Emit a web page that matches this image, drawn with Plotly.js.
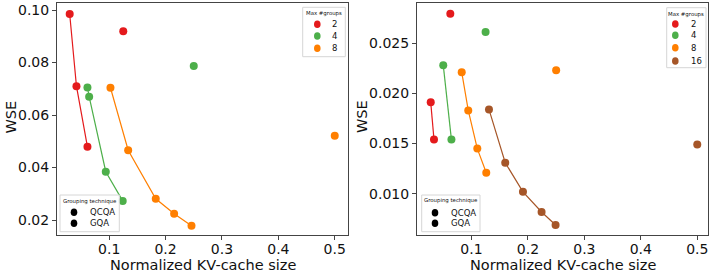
<!DOCTYPE html>
<html>
<head>
<meta charset="utf-8">
<script src="https://cdn.plot.ly/plotly-3.0.1.min.js"></script>
<style>html,body{margin:0;padding:0;background:#fff;}#chart{width:713px;height:274px;}</style>
</head>
<body>
<div id="chart"></div>
<script>
// ---------- data ----------
const groupLabels = ['2', '4', '8', '16'];
const techniqueLabels = ['QCQA', 'GQA'];
const groupLegendTitle = 'Max #groups';
const techLegendTitle = 'Grouping technique';
const xTitle = 'Normalized KV-cache size';
const yTitle = 'WSE';

// Left panel: QCQA (connected) points
const leftQcqa2X = [0.030, 0.042, 0.0615];
const leftQcqa2Y = [0.0985, 0.0710, 0.0479];
const leftQcqa4X = [0.0615, 0.0645, 0.094, 0.124];
const leftQcqa4Y = [0.0705, 0.0670, 0.0384, 0.0273];
const leftQcqa8X = [0.1023, 0.1337, 0.1826, 0.2152, 0.246];
const leftQcqa8Y = [0.0704, 0.0466, 0.0281, 0.0224, 0.0178];
// Left panel: GQA (single) points
const leftGqaX = [0.125, 0.25, 0.5];
const leftGqaY = [0.0919, 0.0787, 0.0521];

// Right panel: QCQA (connected) points
const rightQcqa2X = [0.0278, 0.0336];
const rightQcqa2Y = [0.0191, 0.0154];
const rightQcqa4X = [0.050, 0.0645];
const rightQcqa4Y = [0.0228, 0.0154];
const rightQcqa8X = [0.0827, 0.0943, 0.1103, 0.1262];
const rightQcqa8Y = [0.0221, 0.0183, 0.0145, 0.0121];
const rightQcqa16X = [0.131, 0.1598, 0.1912, 0.2242, 0.249];
const rightQcqa16Y = [0.0184, 0.0131, 0.0102, 0.0082, 0.0069];
// Right panel: GQA (single) points
const rightGqaX = [0.0625, 0.125, 0.25, 0.5];
const rightGqaY = [0.0279, 0.0261, 0.0223, 0.0149];

const xTicks = [0.1, 0.2, 0.3, 0.4, 0.5];
const xTickText = ['0.1', '0.2', '0.3', '0.4', '0.5'];
const leftYTicks = [0.02, 0.04, 0.06, 0.08, 0.10];
const leftYTickText = ['0.02', '0.04', '0.06', '0.08', '0.10'];
const rightYTicks = [0.010, 0.015, 0.020, 0.025];
const rightYTickText = ['0.010', '0.015', '0.020', '0.025'];

// ---------- style ----------
const colors = ['#e41a1c', '#4daf4a', '#ff7f00', '#a65628'];
const MS = 8;
const FONT = 'DejaVu Sans, sans-serif';
const W = 713, H = 274;
const M = {l: 57, r: 5, t: 3, b: 39};
const PW = W - M.l - M.r, PH = H - M.t - M.b;
const px = X => (X - M.l) / PW;      // pixel -> paper x
const py = Y => 1 - (Y - M.t) / PH;  // pixel -> paper y

const leftQ = [[leftQcqa2X, leftQcqa2Y], [leftQcqa4X, leftQcqa4Y], [leftQcqa8X, leftQcqa8Y]];
const rightQ = [[rightQcqa2X, rightQcqa2Y], [rightQcqa4X, rightQcqa4Y], [rightQcqa8X, rightQcqa8Y], [rightQcqa16X, rightQcqa16Y]];

const traces = [];
function addPanel(qList, gX, gY, xa, ya) {
  qList.forEach((q, i) => {
    traces.push({
      type: 'scatter', mode: 'lines+markers', x: q[0], y: q[1],
      xaxis: xa, yaxis: ya, name: groupLabels[i] + ' QCQA', showlegend: false,
      line: {color: colors[i], width: 1.2},
      marker: {color: colors[i], size: MS}
    });
    traces.push({
      type: 'scatter', mode: 'markers', x: [gX[i]], y: [gY[i]],
      xaxis: xa, yaxis: ya, name: groupLabels[i] + ' GQA', showlegend: false,
      marker: {color: colors[i], size: MS}
    });
  });
}
addPanel(leftQ, leftGqaX, leftGqaY, 'x', 'y');
addPanel(rightQ, rightGqaX, rightGqaY, 'x2', 'y2');

// ---------- legend boxes (drawn as shapes + text) ----------
const shapes = [];
const annotations = [];
function legendBox(x0, y0, x1, y1, title, titleY, labels, cols, markerX, textX, rowsY) {
  shapes.push({type: 'rect', xref: 'paper', yref: 'paper', layer: 'above',
    x0: px(x0), x1: px(x1), y0: py(y1), y1: py(y0),
    line: {color: '#d6d6d6', width: 1}, fillcolor: 'rgba(255,255,255,0.85)'});
  annotations.push({xref: 'paper', yref: 'paper', x: px((x0 + x1) / 2), y: py(titleY),
    xanchor: 'center', yanchor: 'middle', showarrow: false, text: title,
    font: {family: FONT, size: 5.4, color: '#111'}, borderpad: 0});
  labels.forEach((lab, i) => {
    shapes.push({type: 'circle', xref: 'paper', yref: 'paper', layer: 'above',
      xsizemode: 'pixel', ysizemode: 'pixel', xanchor: px(markerX), yanchor: py(rowsY[i]),
      x0: -3.3, x1: 3.3, y0: -3.8, y1: 3.8,
      line: {width: 0}, fillcolor: cols[i]});
    annotations.push({xref: 'paper', yref: 'paper', x: px(textX), y: py(rowsY[i]),
      xanchor: 'left', yanchor: 'middle', showarrow: false, text: lab,
      font: {family: FONT, size: 8.5, color: '#111'}, borderpad: 0});
  });
}
// left panel legends
legendBox(302.7, 7.3, 345.3, 56.7, groupLegendTitle, 13.5,
  groupLabels.slice(0, 3), colors.slice(0, 3), 317.3, 330.5, [24.3, 36, 48.3]);
legendBox(60, 195, 119.3, 231.7, techLegendTitle, 201,
  techniqueLabels, ['#000', '#000'], 74, 88.5, [212.3, 223.3]);
// right panel legends
legendBox(666.7, 7.7, 706, 67.7, groupLegendTitle, 14,
  groupLabels, colors, 675.3, 690, [24, 35.3, 47.7, 61]);
legendBox(421.7, 195, 480, 231.7, techLegendTitle, 200.5,
  techniqueLabels, ['#000', '#000'], 435, 450, [212.7, 223.3]);

// ---------- axis titles placed as in the reference ----------
const titleFont = {family: FONT, size: 14.5, color: '#111'};
[[202.5, 264.5], [562.5, 264.5]].forEach(p => annotations.push({
  xref: 'paper', yref: 'paper', x: px(p[0]), y: py(p[1]), xanchor: 'center', yanchor: 'middle',
  showarrow: false, text: xTitle, font: titleFont, borderpad: 0}));
[[10.5, 117], [362, 117]].forEach(p => annotations.push({
  xref: 'paper', yref: 'paper', x: px(p[0]), y: py(p[1]), xanchor: 'center', yanchor: 'middle',
  showarrow: false, text: yTitle, textangle: -90, font: titleFont, borderpad: 0}));

const axisBase = {
  showgrid: false, zeroline: false, showline: true, mirror: true,
  linecolor: '#444', linewidth: 1, ticks: 'outside', ticklen: 4,
  tickcolor: '#444', tickwidth: 1,
  tickfont: {family: FONT, size: 14, color: '#111'}
};

const layout = {
  width: W, height: H,
  margin: M,
  paper_bgcolor: '#fff', plot_bgcolor: '#fff',
  font: {family: FONT, color: '#111'},
  showlegend: false,
  xaxis: Object.assign({}, axisBase, {
    domain: [0, 0.447], range: [0.0075, 0.5235], anchor: 'y',
    tickvals: xTicks, ticktext: xTickText, ticklabelstandoff: -3
  }),
  yaxis: Object.assign({}, axisBase, {
    domain: [0, 1], range: [0.0143, 0.1027], anchor: 'x',
    tickvals: leftYTicks, ticktext: leftYTickText
  }),
  xaxis2: Object.assign({}, axisBase, {
    domain: [0.553, 1], range: [0.0035, 0.519], anchor: 'y2',
    tickvals: xTicks, ticktext: xTickText, ticklabelstandoff: -3
  }),
  yaxis2: Object.assign({}, axisBase, {
    domain: [0, 1], range: [0.00591, 0.02898], anchor: 'x2',
    tickvals: rightYTicks, ticktext: rightYTickText
  }),
  shapes: shapes,
  annotations: annotations
};

Plotly.newPlot('chart', traces, layout, {displayModeBar: false, staticPlot: true});
</script>
</body>
</html>
